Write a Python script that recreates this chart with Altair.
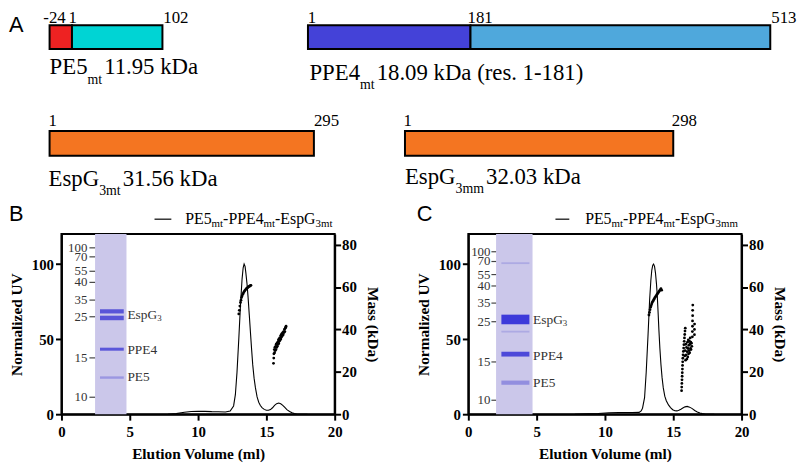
import altair as alt
import pandas as pd

SERIF = "Liberation Serif"
SANS = "Liberation Sans"

# ---------------- Panel A: domain diagrams ----------------
seg_protein = ["PE5", "PE5", "PPE4", "PPE4", "EspG3mt", "EspG3mm"]
seg_start = [-24, 1, 1, 181, 1, 1]
seg_end = [1, 102, 181, 513, 295, 298]
seg_color = ["#ee2222", "#00d4d4", "#4442d8", "#4fa8dc", "#f47521", "#f47521"]

res_protein = ["PE5", "PE5", "PE5", "PPE4", "PPE4", "PPE4", "EspG3mt", "EspG3mt", "EspG3mm", "EspG3mm"]
res_pos = [-24, 1, 102, 1, 181, 513, 1, 295, 1, 298]
res_label = ["-24", "1", "102", "1", "181", "513", "1", "295", "1", "298"]

name_pieces = {
    "PE5": [("PE5", False), ("mt", True), ("11.95 kDa", False)],
    "PPE4": [("PPE4", False), ("mt", True), ("18.09 kDa (res. 1-181)", False)],
    "EspG3mt": [("EspG", False), ("3mt", True), ("31.56 kDa", False)],
    "EspG3mm": [("EspG", False), ("3mm", True), ("32.03 kDa", False)],
}

# ---------------- Panel B data ----------------
b_uv_ml = [7.8, 8.4, 9.0, 9.5, 10.0, 10.5, 11.0, 11.5, 12.0, 12.35, 12.6, 12.73, 12.85, 12.98,
           13.1, 13.22, 13.3, 13.37, 13.44, 13.5, 13.58, 13.66, 13.75, 13.83, 13.92, 14.0, 14.1,
           14.2, 14.32, 14.44, 14.56, 14.68, 14.84, 15.0, 15.15, 15.3, 15.45, 15.6, 15.75, 15.9,
           16.05, 16.2, 16.35, 16.5, 16.7, 16.88, 17.05, 17.25, 18.0]
b_uv_val = [0, 0.4, 1.3, 1.8, 2.0, 1.9, 1.7, 1.6, 1.5, 2.1, 5.5, 13, 28, 50,
            72, 90, 97.5, 100, 98.5, 94, 87, 78, 66, 55, 43, 33, 24,
            17.5, 11.5, 8, 5.8, 4.4, 3.2, 2.6, 2.6, 3.1, 4.3, 5.9, 7.0, 7.4,
            6.9, 5.9, 4.5, 3.0, 1.8, 0.9, 0.4, 0, 0]
b_mass_ml = [12.98, 13.02, 13.06, 13.10, 13.14, 13.18, 13.22, 13.27, 13.32, 13.37, 13.42, 13.47,
             13.52, 13.57, 13.62, 13.67, 13.72, 13.77, 13.82, 13.87,
             15.52, 15.54, 15.55, 15.58, 15.60, 15.62, 15.65, 15.68, 15.70, 15.72, 15.75, 15.78,
             15.80, 15.83, 15.86, 15.88, 15.90, 15.93, 15.96, 15.98, 16.01, 16.04, 16.06, 16.09,
             16.12, 16.14, 16.17, 16.20, 16.23, 16.26, 16.29, 16.32, 16.35, 16.38, 16.41, 16.44]
b_mass_kda = [47.3, 49.0, 51.0, 52.7, 53.8, 55.0, 55.8, 56.6, 57.2, 57.8, 58.3, 58.7,
              59.1, 59.4, 59.7, 60.0, 60.2, 60.4, 60.6, 60.8,
              24.0, 26.5, 28.5, 30.5, 29.0, 31.5, 30.0, 32.0, 30.5, 33.0, 31.5, 33.5,
              32.0, 34.0, 33.0, 35.0, 33.5, 35.5, 34.5, 36.0, 35.0, 37.0, 35.5, 37.5,
              36.5, 38.0, 37.0, 38.5, 37.5, 39.0, 38.5, 40.0, 39.0, 40.5, 41.0, 41.5]
b_gel_ml = [2.46, 4.76]
b_gel_uv = [0, 120]
b_marker_kda = ["100", "70", "55", "40", "35", "25", "15", "10"]
b_marker_uv = [110.8, 104.8, 95.2, 87.8, 76.0, 64.9, 37.5, 11.3]
b_marker_text_ml = 1.90
b_marker_dash_ml = [2.05, 2.46]
b_band_ml = [2.82, 4.56]
b_band_uv = [68.5, 64.1, 43.3, 24.4]
b_band_half = [1.4, 1.5, 1.0, 0.8]
b_band_color = ["#4d48d6", "#4d48d6", "#4f4ad8", "#9691e0"]
b_label_ml = 4.83
b_label_uv = [66.3, 42.7, 24.5]

# ---------------- Panel C data ----------------
c_uv_ml = [7.8, 8.8, 9.5, 10.3, 11.0, 11.5, 12.0, 12.5, 12.65, 12.75, 12.9, 13.02, 13.15,
           13.27, 13.36, 13.43, 13.5, 13.56, 13.63, 13.7, 13.77, 13.83, 13.9, 13.95, 14.02,
           14.1, 14.18, 14.27, 14.38, 14.49, 14.65, 14.8, 14.96, 15.12, 15.27, 15.41, 15.56,
           15.7, 15.86, 16.02, 16.2, 16.39, 16.57, 16.76, 16.95, 17.12, 17.37, 18.0]
c_uv_val = [0, 0.3, 0.5, 1.0, 1.1, 1.1, 1.1, 1.2, 2.2, 4.0, 11, 28, 52,
            76, 89, 96, 99.3, 100, 98.5, 94, 87, 79, 66, 56, 44,
            33, 24.5, 17.5, 12, 9, 6.2, 4.4, 3.0, 2.3, 2.2, 2.6, 3.3,
            4.1, 4.9, 5.2, 4.7, 3.7, 2.5, 1.5, 0.8, 0.4, 0, 0]
c_mass_ml = [13.22, 13.26, 13.30, 13.34, 13.38, 13.42, 13.46, 13.51, 13.56, 13.61, 13.66, 13.71,
             13.76, 13.81, 13.86, 13.91, 13.96, 14.01, 14.06, 14.10, 14.15,
             15.61, 15.62, 15.63, 15.64, 15.65, 15.66, 15.67, 15.68, 15.69, 15.70, 15.72, 15.74,
             15.76, 15.78, 15.80, 15.82, 15.84, 15.86, 15.88,
             15.84, 15.87, 15.90, 15.92, 15.95, 15.97, 16.00, 16.02, 16.04, 16.06, 16.08, 16.10,
             16.12, 16.14, 16.16, 16.18, 16.20, 16.22, 16.24, 16.26, 16.28, 16.30, 16.33, 16.36,
             16.40, 16.40, 16.41, 16.41, 16.42, 16.42, 16.43, 16.55, 16.55, 16.56]
c_mass_kda = [46.8, 48.0, 49.3, 50.4, 51.2, 52.0, 52.7, 53.3, 53.9, 54.4, 55.0, 55.5,
              55.9, 56.5, 57.0, 57.4, 57.9, 58.4, 58.8, 59.2, 58.5,
              11.1, 12.8, 14.5, 16.2, 17.9, 19.6, 21.3, 23.0, 24.7, 26.4, 28.0, 29.6,
              31.2, 32.8, 34.4, 36.0, 37.6, 39.2, 40.6,
              27.5, 30.0, 25.5, 33.0, 28.0, 31.5, 26.0, 29.5, 34.0, 27.0, 31.0, 35.0,
              28.5, 32.5, 30.0, 34.5, 29.0, 33.0, 36.0, 31.0, 34.0, 30.5, 33.5, 32.0,
              36.5, 39.0, 41.5, 44.0, 46.5, 49.0, 51.5, 37.5, 40.0, 42.5]
c_gel_ml = [2.03, 4.70]
c_gel_uv = [0, 120]
c_marker_kda = ["100", "70", "55", "40", "35", "25", "15", "10"]
c_marker_uv = [108.2, 101.7, 93.0, 85.4, 74.0, 61.6, 34.8, 9.3]
c_marker_text_ml = 1.62
c_marker_dash_ml = [1.69, 2.03]
c_band_ml = [2.42, 4.47]
c_band_uv = [100.6, 63.1, 55.0, 40.0, 21.0]
c_band_half = [0.6, 3.2, 0.6, 1.6, 1.4]
c_band_color = ["#aaa6e2", "#2d2ad8", "#aaa6e2", "#3f3bd7", "#8c87de"]
c_label_ml = 4.74
c_label_uv = [63.0, 38.8, 20.5]

band_label_pieces = [[("EspG", False), ("3", True)], [("PPE4", False)], [("PE5", False)]]
legend_b = [("PE5", False), ("mt", True), ("-PPE4", False), ("mt", True), ("-EspG", False), ("3mt", True)]
legend_c = [("PE5", False), ("mt", True), ("-PPE4", False), ("mt", True), ("-EspG", False), ("3mm", True)]

# ---------------- helpers ----------------
TW = {' ': 250, '(': 333, ')': 333, '-': 333, '.': 250, 'D': 722, 'E': 611, 'G': 722, 'P': 556,
      'a': 444, 'e': 444, 'k': 500, 'm': 778, 'p': 500, 'r': 333, 's': 389, 't': 278}


def tw(s, size):
    return sum(TW.get(c, 500) for c in s) * size / 1000.0


def rich(df, enc, pieces, size, sub_size, drop, dx=0, dy=0, color="black",
         baseline="alphabetic", font=SERIF, sub_gap=0):
    out = []
    off = dx
    for txt, is_sub in pieces:
        fs = sub_size if is_sub else size
        out.append(alt.Chart(df).mark_text(
            text=txt, align="left", baseline=baseline, dx=off,
            dy=dy + (drop if is_sub else 0), fontSize=fs, font=font, color=color
        ).encode(**enc))
        off += tw(txt, fs) + (sub_gap if is_sub else 0)
    return out


one = pd.DataFrame({"k": [0]})

# diagram views: view width, pixel range of the residue scale inside the view, view height,
# outer band padding (bar sits at top of its view)
DIAG = {
    "PE5": dict(w=102, rng=[-12, 102], h=28, po=0.0833),
    "PPE4": dict(w=305, rng=[-162, 305], h=28, po=0.0833),
    "EspG3mt": dict(w=255, rng=[-12, 255], h=25, po=0.0),
    "EspG3mm": dict(w=207, rng=[-64, 207], h=25, po=0.0),
}
RES_NUDGE = [-6.3, -3.5, 0.8, -0.2, -3, 1, -1, 0, -1.5, -1.5]


def diagram(p, res_dy, name_dy, name_dx, letter=None):
    g = DIAG[p]
    starts = [s for s, q in zip(seg_start, seg_protein) if q == p]
    ends = [e for e, q in zip(seg_end, seg_protein) if q == p]
    cols = [c for c, q in zip(seg_color, seg_protein) if q == p]
    xs = alt.Scale(domain=[min(starts), max(ends)], range=g["rng"], nice=False, zero=False)
    ys = alt.Scale(type="band", domain=[p], paddingInner=0, paddingOuter=g["po"], align=0)
    X = alt.X("pos:Q", scale=xs, axis=None)
    Y = alt.Y("protein:N", scale=ys, axis=None)
    seg = pd.DataFrame({"protein": [p] * len(starts), "start": starts, "end": ends, "color": cols})
    layers = [alt.Chart(seg).mark_rect(stroke="black", strokeWidth=2).encode(
        x=alt.X("start:Q", scale=xs, axis=None), x2="end:Q", y=Y,
        color=alt.Color("color:N", scale=None))]
    for q, pos, lab, nud in zip(res_protein, res_pos, res_label, RES_NUDGE):
        if q != p:
            continue
        df = pd.DataFrame({"protein": [p], "pos": [pos]})
        layers.append(alt.Chart(df).mark_text(
            text=lab, align="left", baseline="alphabetic", dx=nud, dy=res_dy,
            fontSize=17, font=SERIF, color="black").encode(x=X, y=Y))
    df0 = pd.DataFrame({"protein": [p], "pos": [min(starts)]})
    layers += rich(df0, dict(x=X, y=Y), name_pieces[p], 23, 14, 10, dx=name_dx, dy=name_dy,
                   sub_gap=2)
    if letter:
        layers.append(alt.Chart(one).mark_text(
            text=letter, align="left", baseline="alphabetic", fontSize=22, font=SANS,
            color="black").encode(x=alt.value(-53), y=alt.value(7)))
    return alt.layer(*layers).properties(width=g["w"], height=g["h"])


XS = alt.Scale(domain=[0, 20], nice=False)
UVS = alt.Scale(domain=[0, 120], nice=False)
MS = alt.Scale(domain=[0, 85], nice=False)
x_axis = alt.Axis(values=[0, 5, 10, 15, 20], title="Elution Volume (ml)", titlePadding=7,
                  labelPadding=5, labelFlush=False, format="d")
uv_axis = alt.Axis(values=[0, 50, 100], title="Normalized UV", titlePadding=7, labelPadding=2,
                   labelFlush=False, format="d")
mass_axis = alt.Axis(orient="right", values=[0, 20, 40, 60, 80], title="Mass (kDa)",
                     titlePadding=8, labelPadding=1, labelFlush=False, format="d")


def XQ(f):
    return alt.X(f, type="quantitative", scale=XS, axis=x_axis)


def YQ(f):
    return alt.Y(f, type="quantitative", scale=UVS, axis=uv_axis)


def sec_panel(uv_ml, uv_val, mass_ml, mass_kda, gel_ml, gel_uv, marker_kda, marker_uv,
              marker_text_ml, marker_dash_ml, band_ml, band_uv, band_half, band_color,
              label_ml, label_uv, legend_pieces, legend_pos, letter, letter_x, width):
    gel = pd.DataFrame({"x1": [gel_ml[0]], "x2": [gel_ml[1]], "y1": [gel_uv[0]], "y2": [gel_uv[1]]})
    bands = pd.DataFrame({"x1": [band_ml[0]] * len(band_uv), "x2": [band_ml[1]] * len(band_uv),
                          "y1": [c - h for c, h in zip(band_uv, band_half)],
                          "y2": [c + h for c, h in zip(band_uv, band_half)],
                          "color": band_color})
    markers = pd.DataFrame({"lab": marker_kda, "uv": marker_uv,
                            "tx": [marker_text_ml] * len(marker_uv),
                            "d1": [marker_dash_ml[0]] * len(marker_uv),
                            "d2": [marker_dash_ml[1]] * len(marker_uv)})
    uv = pd.DataFrame({"ml": uv_ml, "uv": uv_val})
    mass = pd.DataFrame({"ml": mass_ml, "kda": mass_kda})

    layers = [
        alt.Chart(gel).mark_rect(color="#cbc7ea").encode(
            x=XQ("x1"), x2="x2", y=YQ("y1"), y2="y2"),
        alt.Chart(bands).mark_rect(opacity=0.9).encode(
            x=XQ("x1"), x2="x2", y=YQ("y1"), y2="y2", color=alt.Color("color:N", scale=None)),
        alt.Chart(markers).mark_rule(color="#444444", strokeWidth=1.2).encode(
            x=XQ("d1"), x2="d2", y=YQ("uv")),
        alt.Chart(markers).mark_text(align="right", baseline="middle", font=SERIF, fontSize=13,
                                     color="#333333").encode(x=XQ("tx"), y=YQ("uv"), text="lab:N"),
    ]
    for pieces, lu in zip(band_label_pieces, label_uv):
        df = pd.DataFrame({"ml": [label_ml], "uv": [lu]})
        layers += rich(df, dict(x=XQ("ml"), y=YQ("uv")), pieces, 13.5, 9, 3,
                       color="#333333", baseline="middle")
    layers.append(alt.Chart(uv).mark_line(color="black", strokeWidth=1.1).encode(
        x=XQ("ml"), y=YQ("uv")))
    lx0, lx1, ly, tx, ty = legend_pos
    layers.append(alt.Chart(one).mark_rule(color="black", strokeWidth=1.2).encode(
        x=alt.value(lx0), x2=alt.value(lx1), y=alt.value(ly)))
    layers += rich(one, dict(x=alt.value(tx), y=alt.value(ty)), legend_pieces, 16, 11, 3)
    layers.append(alt.Chart(one).mark_text(
        text=letter, align="left", baseline="alphabetic", fontSize=22, font=SANS,
        color="black").encode(x=alt.value(letter_x), y=alt.value(-13)))
    inner = alt.layer(*layers)
    mass_layer = alt.Chart(mass).mark_circle(size=8, color="black", opacity=1).encode(
        x=XQ("ml"), y=alt.Y("kda:Q", scale=MS, axis=mass_axis))
    return alt.layer(inner, mass_layer).resolve_scale(y="independent").properties(
        width=width, height=182, view=alt.ViewBackground(stroke="black", strokeWidth=2))


panel_b = sec_panel(b_uv_ml, b_uv_val, b_mass_ml, b_mass_kda, b_gel_ml, b_gel_uv, b_marker_kda,
                    b_marker_uv, b_marker_text_ml, b_marker_dash_ml, b_band_ml, b_band_uv,
                    b_band_half, b_band_color, b_label_ml, b_label_uv, legend_b,
                    (94, 111, -15, 125, -10), "B", -53, 276)
panel_c = sec_panel(c_uv_ml, c_uv_val, c_mass_ml, c_mass_kda, c_gel_ml, c_gel_uv, c_marker_kda,
                    c_marker_uv, c_marker_text_ml, c_marker_dash_ml, c_band_ml, c_band_uv,
                    c_band_half, c_band_color, c_label_ml, c_label_uv, legend_c,
                    (88, 102, -15, 118, -10), "C", -52, 276)

chart = alt.concat(
    diagram("PE5", -14.5, 37.5, 0, letter="A"),
    diagram("PPE4", -14.5, 43, 1.5),
    diagram("EspG3mt", -17.5, 42.5, -1),
    diagram("EspG3mm", -17.5, 40.5, 0),
    panel_b,
    panel_c,
    columns=2, align="none", bounds="flush",
    spacing=alt.RowColnumber(row=79, column=135),
).configure_view(stroke=None).configure_axis(
    domainColor="black", domainWidth=2, tickColor="black", tickWidth=2, tickSize=6,
    labelFont=SERIF, labelFontWeight="bold", labelFontSize=15, labelColor="black",
    titleFont=SERIF, titleFontWeight="bold", titleFontSize=15.5, titleColor="black", grid=False
).properties(padding={"top": -2, "left": 0, "right": 0, "bottom": 0}, background="white")

chart.save("out.html", embed_options={"renderer": "svg", "actions": False})
